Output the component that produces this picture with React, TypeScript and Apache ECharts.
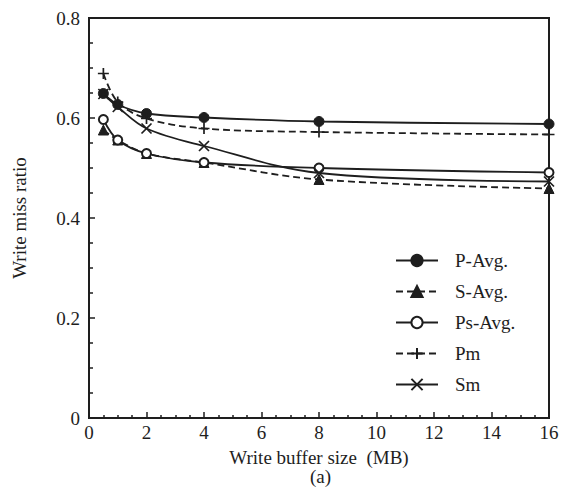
import React, { useEffect, useRef } from "react";
import * as echarts from "echarts";

const xValues = [0.5, 1, 2, 4, 8, 16];
const pAvg = [0.649, 0.627, 0.609, 0.601, 0.593, 0.588];
const sAvg = [0.576, 0.556, 0.529, 0.511, 0.477, 0.459];
const psAvg = [0.597, 0.556, 0.529, 0.511, 0.5, 0.491];
const pm = [0.689, 0.632, 0.599, 0.579, 0.572, 0.567];
const sm = [0.648, 0.622, 0.579, 0.544, 0.49, 0.473];
const xTicks = [0, 2, 4, 6, 8, 10, 12, 14, 16];
const yTicks = [0, 0.2, 0.4, 0.6, 0.8];

const INK = "#1e1e1e";
const FONT = "'Liberation Serif', 'DejaVu Serif', serif";
const PLUS = "path://M0,-6L0,6M-6,0L6,0";
const CROSS = "path://M-5,-5L5,5M-5,5L5,-5";

function pairs(vals: number[]) {
  return xValues.map((x, i) => [x, vals[i]]);
}

export default function App() {
  const ref = useRef<HTMLDivElement>(null);
  useEffect(() => {
    if (!ref.current) return;
    const chart = echarts.init(ref.current, null, { renderer: "svg" });
    const mk = (
      name: string,
      vals: number[],
      symbol: string,
      size: number,
      dashed: boolean
    ) => ({
      name,
      type: "line",
      data: pairs(vals),
      smooth: 0.35,
      symbol,
      symbolSize: size,
      showAllSymbol: true,
      lineStyle: { color: INK, width: 1.8, type: dashed ? [7, 4] : "solid" },
      itemStyle: {
        color: INK,
        borderColor: INK,
        borderWidth: symbol.startsWith("path") || symbol === "emptyCircle" ? 1.7 : 1,
      },
      emphasis: { disabled: true },
    });
    chart.setOption({
      animation: false,
      backgroundColor: "#fff",
      textStyle: { fontFamily: FONT, color: INK },
      grid: {
        left: 89,
        right: 14,
        top: 18,
        bottom: 82,
        show: true,
        borderColor: INK,
        borderWidth: 2,
        containLabel: false,
      },
      legend: {
        orient: "vertical",
        left: 390,
        top: 246,
        itemWidth: 42,
        itemHeight: 14,
        itemGap: 12,
        textStyle: { fontFamily: FONT, fontSize: 19, color: INK, padding: [0, 0, 0, 12] },
        data: ["P-Avg.", "S-Avg.", "Ps-Avg.", "Pm", "Sm"],
      },
      xAxis: {
        type: "value",
        min: 0,
        max: 16,
        interval: 2,
        name: "Write buffer size  (MB)",
        nameLocation: "middle",
        nameGap: 30,
        nameTextStyle: { fontFamily: FONT, fontSize: 19, color: INK },
        axisLine: { lineStyle: { color: INK, width: 2 } },
        axisTick: { inside: true, length: 6, lineStyle: { color: INK, width: 1.5 } },
        minorTick: { show: true, splitNumber: 4, length: 3, lineStyle: { color: INK, width: 1.5 } },
        axisLabel: {
          fontFamily: FONT,
          fontSize: 19,
          color: INK,
          margin: 5,
          formatter: (v: number) => (xTicks.includes(v) ? String(v) : ""),
        },
        splitLine: { show: false },
      },
      yAxis: {
        type: "value",
        min: 0,
        max: 0.8,
        interval: 0.2,
        name: "Write miss ratio",
        nameLocation: "middle",
        nameGap: 60,
        nameTextStyle: { fontFamily: FONT, fontSize: 19, color: INK },
        axisLine: { lineStyle: { color: INK, width: 2 } },
        axisTick: { inside: true, length: 6, lineStyle: { color: INK, width: 1.5 } },
        minorTick: { show: true, splitNumber: 4, length: 4, lineStyle: { color: INK, width: 1.5 } },
        axisLabel: {
          fontFamily: FONT,
          fontSize: 19,
          color: INK,
          margin: 9,
          formatter: (v: number) => {
            const t = yTicks.find((y) => Math.abs(y - v) < 1e-9);
            if (t === undefined) return "";
            return t === 0 ? "0" : t.toFixed(1);
          },
        },
        splitLine: { show: false },
      },
      graphic: [
        {
          type: "text",
          left: 310,
          top: 467,
          style: { text: "(a)", fontFamily: FONT, fontSize: 19, fill: INK },
        },
      ],
      series: [
        mk("P-Avg.", pAvg, "circle", 10, false),
        mk("S-Avg.", sAvg, "triangle", 10, true),
        mk("Ps-Avg.", psAvg, "emptyCircle", 9, false),
        mk("Pm", pm, PLUS, 11, true),
        mk("Sm", sm, CROSS, 10, false),
      ],
    });
    return () => chart.dispose();
  }, []);
  return (
    <div
      ref={ref}
      style={{ position: "absolute", left: 0, top: 0, width: 563, height: 500 }}
    />
  );
}
